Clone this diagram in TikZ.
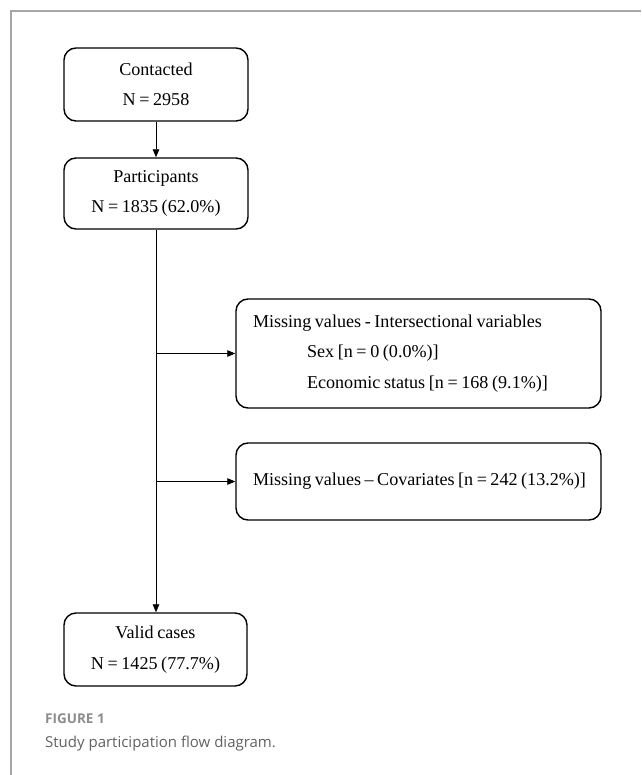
\documentclass[tikz,border=0pt]{standalone}
\usepackage{fontspec}
\setmainfont{Liberation Serif}
\newfontfamily\capfont{Open Sans}
\usetikzlibrary{arrows.meta}
\newcommand\tightsp{\spaceskip=0.2em plus 0.1em minus 0.05em\relax}
\begin{document}
\begin{tikzpicture}[x=1pt,y=1pt,
  box/.style={draw=black, line width=1.4pt, rounded corners=12pt, inner sep=0pt,
    font=\fontsize{18.1}{30.5}\selectfont, execute at begin node=\tightsp},
  cbox/.style={box, minimum width=184pt, align=center},
  lbox/.style={box, minimum width=365pt, text width=335pt, align=left, inner xsep=15pt},
  conn/.style={line width=0.8pt, -{Triangle[length=8pt,width=6.5pt]}},
  frame/.style={draw=black!35, line width=1.3pt}
]
\useasboundingbox (0,0) rectangle (641,-775);
\draw[frame] (11,-775) -- (11,-11) -- (641,-11);

\node[cbox, minimum height=73pt] (c) at (156,-84.5) {Contacted\\N = 2958};
\node[cbox, minimum height=71pt] (p) at (156,-193.5) {Participants\\N = 1835 (62.0\%)};
\node[cbox, minimum height=73pt, minimum width=183pt] (v) at (155.5,-649.5) {Valid cases\\N = 1425 (77.7\%)};
\node[lbox, minimum height=109pt] (m1) at (418.5,-353.5)
  {\hspace*{2pt}Missing values - Intersectional variables\\
   \hspace*{56pt}Sex [n = 0 (0.0\%)]\\
   \hspace*{56pt}Economic status [n = 168 (9.1\%)]};
\node[lbox, minimum height=77pt] (m2) at (418.5,-481.5)
  {\hspace*{2pt}Missing values -- Covariates [n = 242 (13.2\%)]};

\draw[conn] (c) -- (p);
\draw[conn] (p.south) -- (v.north -| p.south);
\draw[conn] (p.south |- m1.west) -- (m1.west);
\draw[conn] (p.south |- m2.west) -- (m2.west);

\node[anchor=base west, inner sep=0pt, text=black!45, font=\capfont\fontsize{13.5}{15}\selectfont\bfseries] (fig) at (45,-723) {FIGURE 1};
\node[anchor=base west, inner sep=0pt, text=black!62, font=\capfont\fontsize{15}{18}\selectfont] (cap) at (45,-747) {Study participation flow diagram.};
\end{tikzpicture}
\end{document}
